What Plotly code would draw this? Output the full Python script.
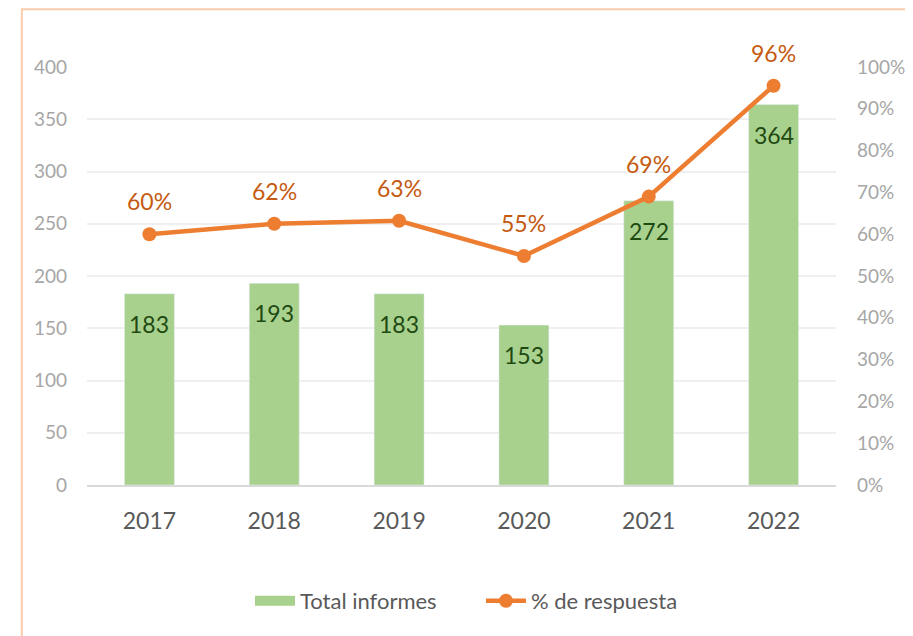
"""Total informes and % de respuesta, 2017-2022"""

import plotly.graph_objects as go

years = ["2017", "2018", "2019", "2020", "2021", "2022"]
total_informes = [183, 193, 183, 153, 272, 364]
pct_respuesta = [0.60, 0.625, 0.632, 0.548, 0.69, 0.955]

GREEN = "#A9D18E"
ORANGE = "#ED7D31"
FONT = "Lato"

fig = go.Figure()
fig.add_trace(
    go.Bar(
        x=years,
        y=total_informes,
        name="Total informes",
        marker=dict(color=GREEN),
        showlegend=False,
        hoverinfo="skip",
    )
)
# legend-only swatch so it looks like a wide bar patch
fig.add_trace(
    go.Scatter(
        x=[None],
        y=[None],
        name="Total informes",
        mode="lines",
        line=dict(color=GREEN, width=14),
    )
)
fig.add_trace(
    go.Scatter(
        x=years,
        y=pct_respuesta,
        name="% de respuesta",
        mode="lines+markers",
        yaxis="y2",
        line=dict(color=ORANGE, width=4.5),
        marker=dict(color=ORANGE, size=14),
        hoverinfo="skip",
    )
)

# data labels (x given as category index: numeric-looking strings get read as indices)
for i, v in enumerate(total_informes):
    fig.add_annotation(
        x=i, y=v, yref="y", text=str(v), showarrow=False, yshift=-30,
        font=dict(family=FONT, size=23, color="#1E4A12"),
    )
for i, p in enumerate(pct_respuesta):
    fig.add_annotation(
        x=i, y=p, yref="y2", text=f"{round(p * 100)}%", showarrow=False, yshift=33,
        font=dict(family=FONT, size=23, color="#C55A11"),
    )

# light orange frame
fig.add_shape(
    type="rect", xref="paper", yref="paper",
    x0=-0.087, x1=1.12, y0=-0.38, y1=1.138,
    line=dict(color="#F8CBAD", width=2), layer="below",
)

# page body has an 8px margin, so size/margins are trimmed by 8px
fig.update_layout(
    width=905,
    height=628,
    margin=dict(l=79, r=77, t=59, b=151),
    paper_bgcolor="white",
    plot_bgcolor="white",
    bargap=0.6,
    font=dict(family=FONT),
    xaxis=dict(
        type="category",
        range=[-0.5, 5.5],
        tickfont=dict(family=FONT, size=23, color="#595959"),
        ticklabelstandoff=14,
        showgrid=False,
        showline=True,
        linecolor="#D9D9D9",
        linewidth=2,
        automargin=False,
    ),
    yaxis=dict(
        range=[0, 400],
        dtick=50,
        tickfont=dict(family=FONT, size=19, color="#A6A6A6"),
        gridcolor="#EFEFEF",
        gridwidth=1.5,
        zeroline=False,
        ticklabelstandoff=19,
        automargin=False,
    ),
    yaxis2=dict(
        range=[0, 1],
        dtick=0.1,
        tickformat=".0%",
        overlaying="y",
        side="right",
        showgrid=False,
        zeroline=False,
        tickfont=dict(family=FONT, size=19, color="#A6A6A6"),
        ticklabelstandoff=20,
        automargin=False,
    ),
    legend=dict(
        orientation="h",
        x=0.526,
        xanchor="center",
        y=-0.2775,
        yanchor="middle",
        font=dict(family=FONT, size=22, color="#595959"),
        itemwidth=40,
        entrywidth=176,
    ),
)

fig.write_html("out.html")
